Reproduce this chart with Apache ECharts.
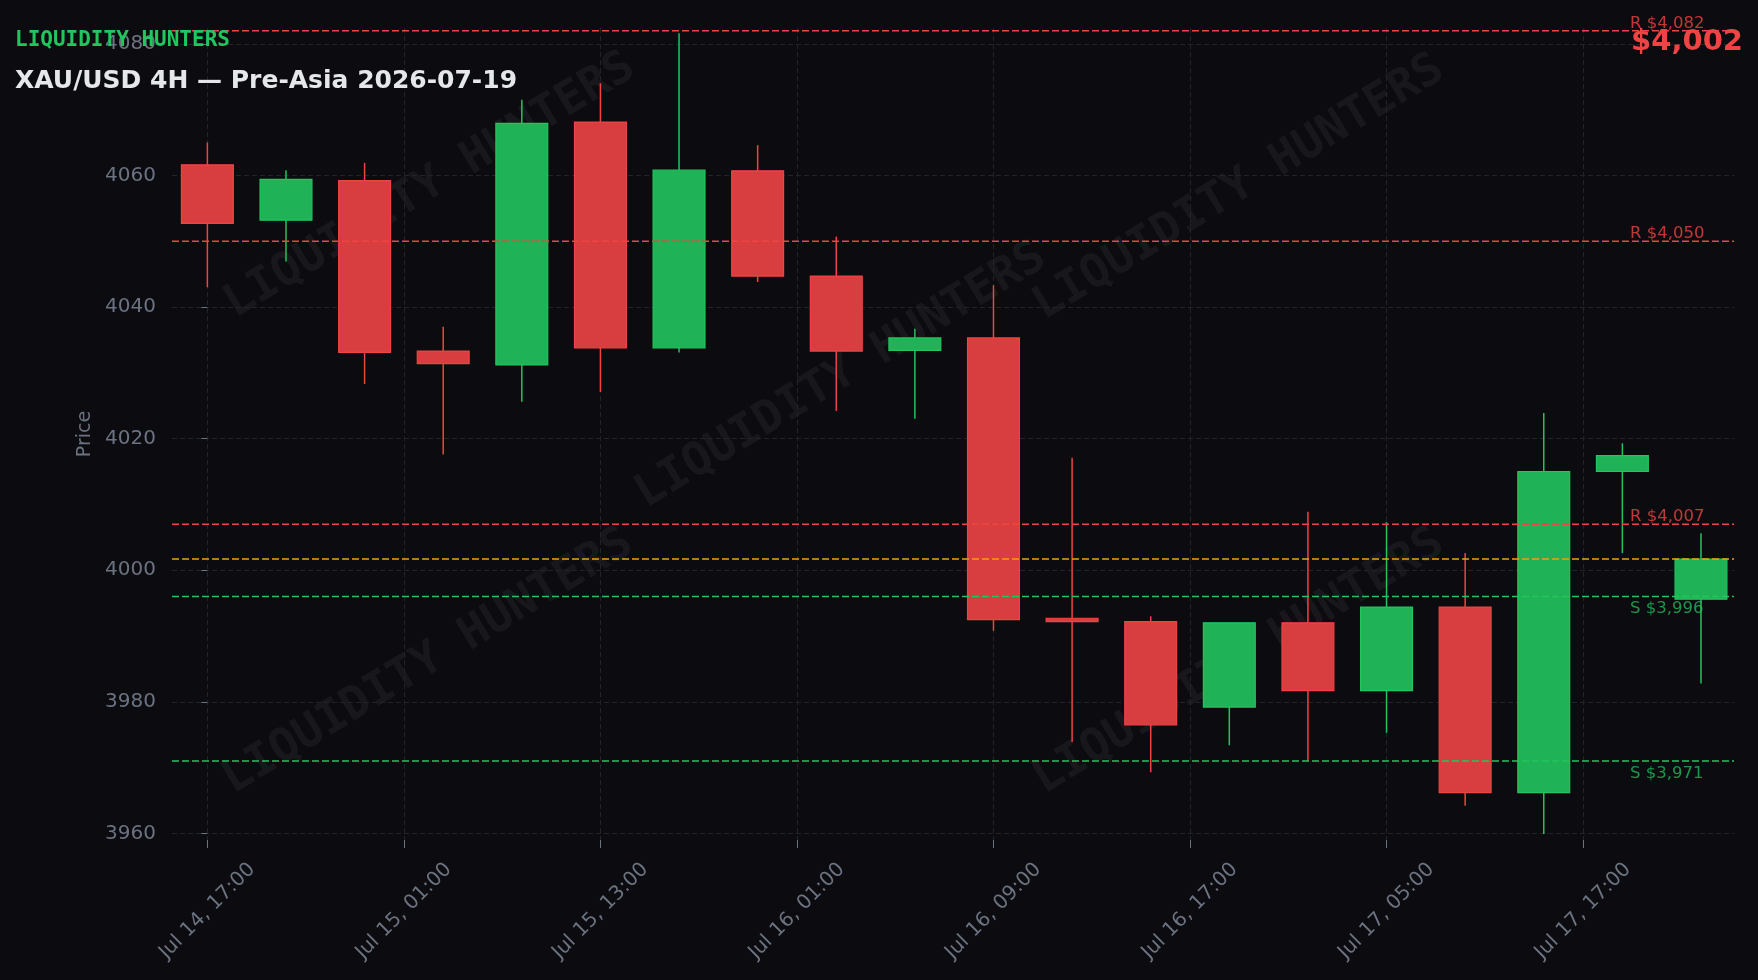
<!DOCTYPE html>
<html><head><meta charset="utf-8">
<script src="https://cdn.jsdelivr.net/npm/echarts@6/dist/echarts.min.js"></script>
<style>html,body{margin:0;padding:0;background:#0b0b10;}#c{width:1758px;height:980px;}</style>
</head><body><div id="c"></div>
<script>
const categories = ['Jul 14, 17:00','Jul 14, 21:00','Jul 15, 01:00','Jul 15, 05:00','Jul 15, 09:00','Jul 15, 13:00','Jul 15, 17:00','Jul 15, 21:00','Jul 16, 01:00','Jul 16, 05:00','Jul 16, 09:00','Jul 16, 13:00','Jul 16, 17:00','Jul 16, 21:00','Jul 17, 01:00','Jul 17, 05:00','Jul 17, 09:00','Jul 17, 13:00','Jul 17, 17:00','Jul 17, 21:00'];
const opens  = [4061.6,4053.2,4059.2,4033.3,4031.2,4068.1,4033.8,4060.7,4044.7,4033.4,4035.3,3992.7,3992.2,3979.2,3992.0,3981.7,3994.4,3966.2,4015.0,3995.6];
const closes = [4052.7,4059.4,4033.1,4031.4,4067.9,4033.8,4060.8,4044.7,4033.3,4035.3,3992.5,3992.2,3976.5,3992.0,3981.7,3994.4,3966.2,4015.0,4017.4,4001.7];
const lows   = [4043.0,4046.9,4028.3,4017.6,4025.6,4027.1,4033.1,4043.8,4024.2,4023.0,3990.8,3973.9,3969.3,3973.4,3971.0,3975.3,3964.2,3959.9,4002.6,3982.8];
const highs  = [4065.0,4060.8,4061.9,4037.0,4071.5,4074.0,4081.6,4064.6,4050.7,4036.7,4043.3,4017.1,3993.0,3992.0,4008.9,4007.3,4002.6,4023.9,4019.3,4005.6];
const resistanceLevels = [4082, 4050, 4007];
const supportLevels = [3996, 3971];
const currentPrice = 4001.7;
const xTickPositions = [0, 2.5, 5, 7.5, 10, 12.5, 15, 17.5];
const yTicks = [3960, 3980, 4000, 4020, 4040, 4060, 4080];
const titleText = 'XAU/USD 4H — Pre-Asia 2026-07-19';
const brandText = 'LIQUIDITY HUNTERS';
const yAxisName = 'Price';

const UP = '#22c55e', DOWN = '#ef4444', CUR = '#f59e0b';
const UP_FILL = '#20b256', DOWN_FILL = '#d83e3f';
const GRIDC = '#23232c', TXT = '#6b7280';

function roundHalfEven(v){
  const f = Math.floor(v), d = v - f;
  if (Math.abs(d - 0.5) < 1e-9) return (f % 2 === 0) ? f : f + 1;
  return Math.round(v);
}
function fmtPrice(v){ return Math.round(v).toLocaleString('en-US'); }

const candleData = categories.map((c, i) => [i, opens[i], closes[i], lows[i], highs[i]]);
const levelData = resistanceLevels.map(v => [v, 0])
  .concat(supportLevels.map(v => [v, 1]))
  .concat([[currentPrice, 2]]);

function renderCandle(params, api){
  const x = api.value(0), o = api.value(1), c = api.value(2), l = api.value(3), h = api.value(4);
  const po = api.coord([x, o]), pc = api.coord([x, c]), pl = api.coord([x, l]), ph = api.coord([x, h]);
  const w = api.size([1, 0])[0] * 0.66;
  const up = c >= o;
  const top = Math.min(po[1], pc[1]), bot = Math.max(po[1], pc[1]);
  return {type: 'group', children: [
    {type: 'line', shape: {x1: ph[0], y1: ph[1], x2: pl[0], y2: pl[1]}, style: {stroke: up ? UP : DOWN, lineWidth: 1.5}},
    {type: 'rect', shape: {x: po[0] - w / 2, y: top, width: w, height: Math.max(bot - top, 1.5)},
     style: {fill: up ? UP_FILL : DOWN_FILL, stroke: up ? UP : DOWN, lineWidth: 1.2}}
  ]};
}

function renderLevel(params, api){
  const v = api.value(0), kind = api.value(1);
  const cs = params.coordSys;
  const y = api.coord([0, v])[1];
  const col = kind === 0 ? DOWN : (kind === 1 ? UP : CUR);
  const children = [{type: 'line', shape: {x1: cs.x, y1: y, x2: cs.x + cs.width, y2: y},
    style: {stroke: col, lineWidth: 1.5, lineDash: [7, 3]}}];
  if (kind !== 2) {
    children.push({type: 'text', style: {
      text: (kind === 0 ? 'R $' : 'S $') + fmtPrice(v),
      x: cs.x + cs.width - 104, y: kind === 0 ? y + 1.5 : y + 4,
      fill: kind === 0 ? 'rgba(239,68,68,0.8)' : 'rgba(34,197,94,0.75)',
      font: '16.5px "DejaVu Sans"', align: 'left', verticalAlign: kind === 0 ? 'bottom' : 'top'}});
  }
  return {type: 'group', children};
}

const wmPos = [[430,186],[841,376],[1239,188],[428,662],[1239,662]];
const graphics = wmPos.map(p => ({type: 'text', x: p[0], y: p[1], rotation: 0.545, z: -10, silent: true,
  style: {text: brandText, fill: 'rgba(255,255,255,0.05)', font: 'bold 46px "DejaVu Sans Mono"', align: 'center', verticalAlign: 'middle'}}));
graphics.push({type: 'text', left: 15, top: 30, z: 100, style: {text: brandText, fill: UP, font: 'bold 21px "DejaVu Sans Mono"'}});
graphics.push({type: 'text', left: 15, top: 69, z: 100, style: {text: titleText, fill: '#e5e7eb', font: 'bold 25px "DejaVu Sans"'}});
graphics.push({type: 'text', right: 15, top: 28, z: 100, style: {text: '$' + fmtPrice(currentPrice), fill: DOWN, font: 'bold 29px "DejaVu Sans"'}});

const chart = echarts.init(document.getElementById('c'), null, {renderer: 'canvas'});
chart.setOption({
  backgroundColor: '#0b0b10',
  animation: false,
  textStyle: {fontFamily: 'DejaVu Sans'},
  grid: {left: 172, right: 24, top: 28, bottom: 140, containLabel: false},
  graphic: graphics,
  xAxis: {
    type: 'value', min: -0.45, max: 19.42,
    axisLine: {show: false},
    axisTick: {show: true, customValues: xTickPositions, length: 8, lineStyle: {color: TXT, width: 1}},
    axisLabel: {customValues: xTickPositions, rotate: 45, align: 'center', verticalAlign: 'middle', margin: 71,
      color: TXT, fontSize: 20, fontFamily: 'DejaVu Sans', formatter: v => categories[roundHalfEven(v)]},
    splitLine: {show: true, lineStyle: {color: GRIDC, type: [5, 3], width: 1}}
  },
  yAxis: {
    type: 'value', min: 3959, max: 4082.4,
    name: yAxisName, nameLocation: 'middle', nameRotate: 90, nameGap: 70,
    nameTextStyle: {color: TXT, fontSize: 19, fontFamily: 'DejaVu Sans'},
    axisLine: {show: false},
    axisTick: {show: true, customValues: yTicks, length: 6, lineStyle: {color: TXT, width: 1}},
    axisLabel: {customValues: yTicks, margin: 16, color: TXT, fontSize: 20, fontFamily: 'DejaVu Sans',
      padding: [4, 0, 0, 0], formatter: v => String(v)},
    splitLine: {show: true, lineStyle: {color: GRIDC, type: [5, 3], width: 1}}
  },
  series: [
    {type: 'custom', name: 'candles', renderItem: renderCandle, data: candleData, encode: {x: 0, y: [1, 2, 3, 4]}, z: 3, clip: true},
    {type: 'custom', name: 'levels', renderItem: renderLevel, data: levelData, encode: {y: 0}, z: 5}
  ]
});
</script></body></html>
